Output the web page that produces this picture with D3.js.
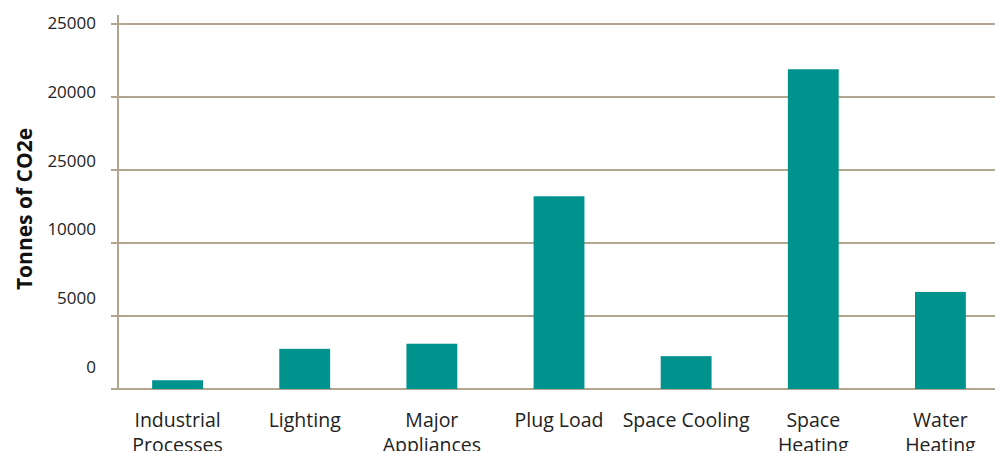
<!DOCTYPE html>
<html>
<head>
<meta charset="utf-8">
<script src="https://cdn.jsdelivr.net/npm/d3@7/dist/d3.min.js"></script>
<style>
  html, body { margin: 0; padding: 0; background: #ffffff; }
  svg { display: block; font-family: "Open Sans", sans-serif; }
</style>
</head>
<body>
<svg id="chart" width="995" height="451"></svg>
<script>
const categories = [["Industrial", "Processes"], ["Lighting"], ["Major", "Appliances"], ["Plug Load"], ["Space Cooling"], ["Space", "Heating"], ["Water", "Heating"]];
const values = [600, 2750, 3100, 13200, 2250, 21900, 6650];
const gridValues = [0, 5000, 10000, 15000, 20000, 25000];
const tickLabels = ["0", "5000", "10000", "25000", "20000", "25000"];
const yTitle = "Tonnes of CO2e";

const svg = d3.select("#chart");
const W = 995, H = 451;
const x0 = 118, yBottom = 389, yTop = 24;

const keys = categories.map(c => c.join(" "));
const x = d3.scaleBand().domain(keys).range([114, 1004]).paddingInner(0.6).paddingOuter(0.3);
const y = d3.scaleLinear().domain([0, 25000]).range([yBottom, yTop]);
// label positions (labels in the original sit on their own even spacing)
const yLab = d3.scalePoint().domain(d3.range(tickLabels.length)).range([367, 23]);

const gridColor = "#b2a690";

// gridlines
svg.append("g").selectAll("line").data(gridValues).join("line")
  .attr("x1", 111).attr("x2", W)
  .attr("y1", d => y(d)).attr("y2", d => y(d))
  .attr("stroke", gridColor).attr("stroke-width", 2);

// vertical axis line
svg.append("line").attr("x1", x0).attr("x2", x0).attr("y1", 15).attr("y2", yBottom + 1)
  .attr("stroke", gridColor).attr("stroke-width", 2);

// bars
svg.append("g").selectAll("rect").data(values).join("rect")
  .attr("x", (d, i) => x(keys[i]))
  .attr("width", x.bandwidth())
  .attr("y", d => y(d))
  .attr("height", d => yBottom - y(d))
  .attr("fill", "#00938e");

// y tick labels
svg.append("g").selectAll("text").data(tickLabels).join("text")
  .attr("x", 96).attr("y", (d, i) => yLab(i))
  .attr("dy", "0.35em")
  .attr("text-anchor", "end")
  .attr("font-size", 17)
  .attr("fill", "#222")
  .text(d => d);

// x labels
const xl = svg.append("g").selectAll("text").data(categories).join("text")
  .attr("x", (d, i) => x(keys[i]) + x.bandwidth() / 2)
  .attr("y", 426.5)
  .attr("text-anchor", "middle")
  .attr("font-size", 19.5)
  .attr("fill", "#222");
xl.each(function(d, i) {
  const t = d3.select(this);
  const base = x(keys[i]) + x.bandwidth() / 2;
  d.forEach((line, j) => {
    t.append("tspan").attr("x", base).attr("dy", j === 0 ? 0 : 25).text(line);
  });
});

// y title
svg.append("text")
  .attr("transform", "translate(31.5,209) rotate(-90)")
  .attr("text-anchor", "middle")
  .attr("font-size", 21)
  .attr("font-weight", "bold")
  .attr("fill", "#111")
  .text(yTitle);
</script>
</body>
</html>
